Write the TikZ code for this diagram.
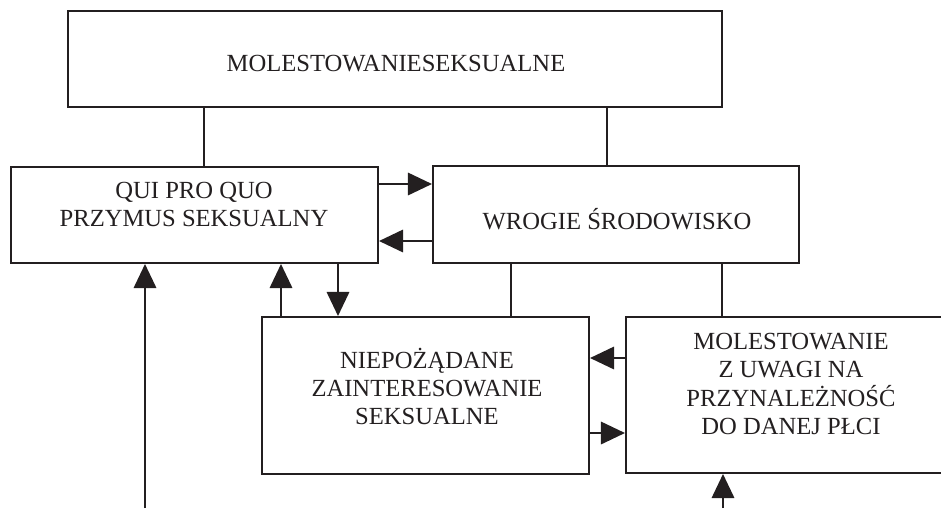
\documentclass[tikz,border=0pt]{standalone}
\usepackage{fontspec}
\setmainfont{Liberation Serif}
\usetikzlibrary{arrows.meta}
\definecolor{inkblk}{HTML}{231F20}

\tikzset{
  conn/.style={draw=inkblk, line width=1.4pt},
  arr/.style={-{Triangle[length=0.6cm,width=0.56cm]}},
  box/.style 2 args={conn, rectangle, inner sep=0pt, minimum width=#1, minimum height=#2},
  txt/.style={text=inkblk, align=center, inner sep=0pt, font=\fontsize{17.5}{20}\selectfont}
}

\begin{document}
\begin{tikzpicture}[x=0.025cm, y=-0.025cm]
  \clip (0,0) rectangle (941,508);
  % boxes (centres in pixels of the sheet)
  \node[box={16.35cm}{2.4cm}]   (molsex) at (395,59) {};
  \node[box={9.175cm}{2.4cm}]   (qpq)    at (194.5,215) {};
  \node[box={9.15cm}{2.425cm}]  (wrogie) at (616,214.5) {};
  \node[box={8.175cm}{3.925cm}] (niep)   at (425.5,395.5) {};
  \node[box={8.25cm}{3.9cm}]    (mplec)  at (791,395) {};
  % box texts
  \node[txt] (molsex-t) at (396,64)    {MOLESTOWANIESEKSUALNE};
  \node[txt] (qpq-t)    at (194,204.5) {QUI PRO QUO\\PRZYMUS SEKSUALNY};
  \node[txt] (wrogie-t) at (617,219)   {WROGIE ŚRODOWISKO};
  \node[txt] (niep-t)   at (427,386.5) {NIEPOŻĄDANE\\ZAINTERESOWANIE\\SEKSUALNE};
  \node[txt] (mplec-t)  at (791,384)   {MOLESTOWANIE\\Z UWAGI NA\\PRZYNALEŻNOŚĆ\\DO DANEJ PŁCI};
  % plain links
  \foreach \a/\b/\x in {molsex/qpq/204, molsex/wrogie/607, wrogie/niep/511, wrogie/mplec/722}{
    \draw[conn] (\a.south -| \x,0) -- (\b.north -| \x,0);
  }
  % arrows between neighbours
  \draw[conn, arr] (qpq.east |- 0,184) -- (wrogie.west |- 0,184);
  \draw[conn, arr] (wrogie.west |- 0,241) -- (qpq.east |- 0,241);
  \draw[conn, arr] (mplec.west |- 0,358) -- (niep.east |- 0,358);
  \draw[conn, arr] (niep.east |- 0,433) -- (mplec.west |- 0,433);
  \draw[conn, arr] (niep.north -| 281,0) -- (qpq.south -| 281,0);
  \draw[conn, arr] (qpq.south -| 338,0) -- (niep.north -| 338,0);
  % incoming arrows from below
  \coordinate (inq) at (145,508);
  \coordinate (inm) at (723,508);
  \draw[conn, arr] (inq) -- (inq |- qpq.south);
  \draw[conn, arr] (inm) -- (inm |- mplec.south);
\end{tikzpicture}
\end{document}
